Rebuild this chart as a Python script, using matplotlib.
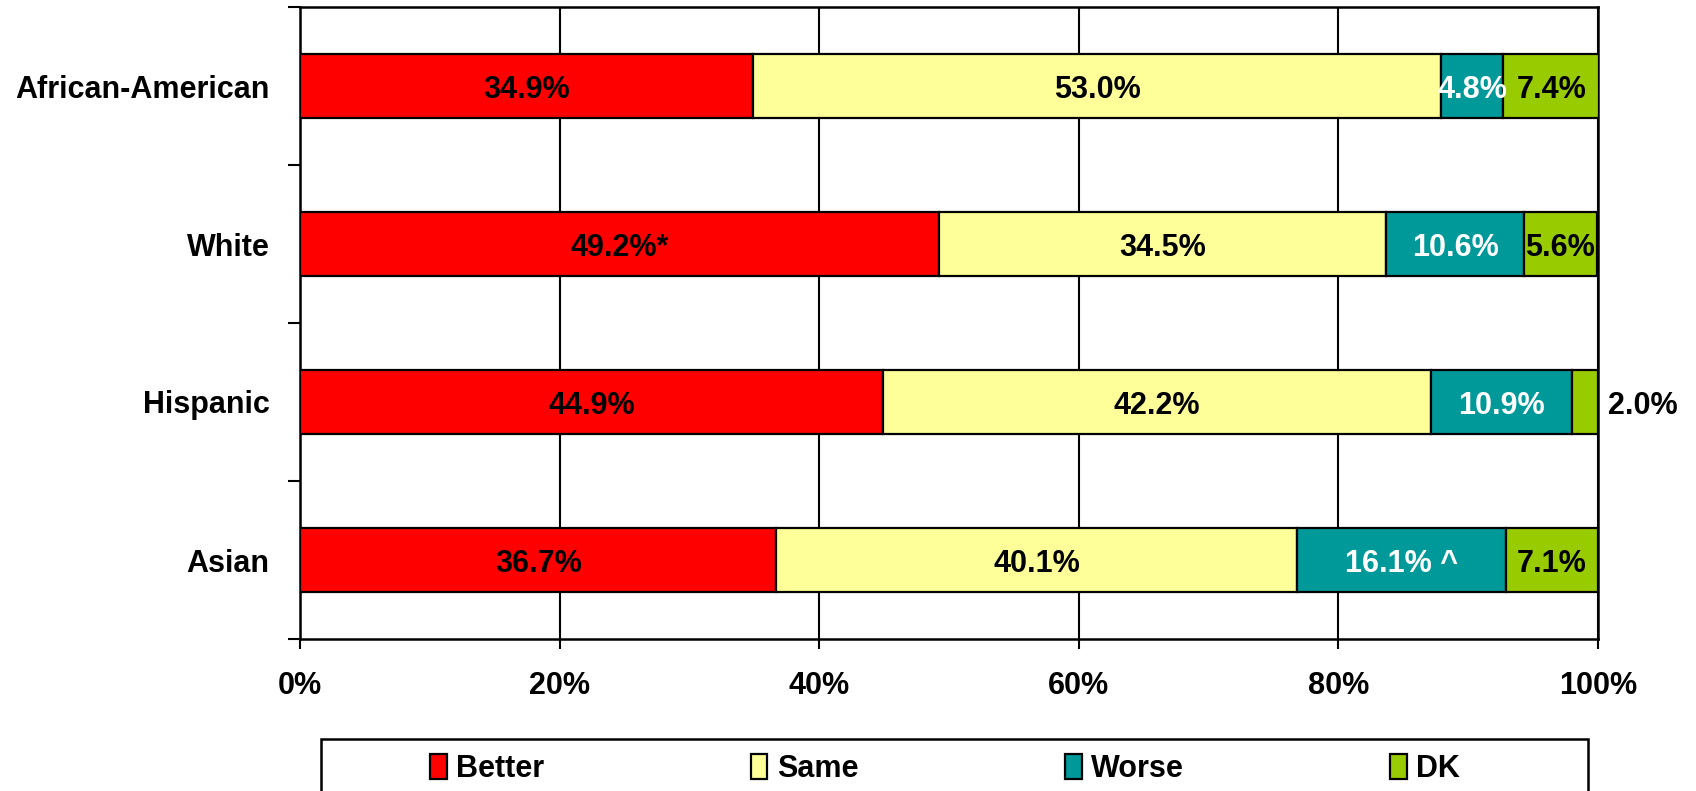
import numpy as np
import matplotlib
matplotlib.use('Agg')
import matplotlib.pyplot as plt
from matplotlib.patches import Rectangle

plt.rcParams['font.family'] = ['Liberation Sans', 'DejaVu Sans']
plt.rcParams['font.weight'] = 'bold'

groups = ['African-American', 'White', 'Hispanic', 'Asian']
series = ['Better', 'Same', 'Worse', 'DK']
better = [34.9, 49.2, 44.9, 36.7]
same = [53.0, 34.5, 42.2, 40.1]
worse = [4.8, 10.6, 10.9, 16.1]
dk = [7.4, 5.6, 2.0, 7.1]
# marks added after some labels in the source
notes = {('White', 'Better'): '*', ('Asian', 'Worse'): ' ^'}

colors = ['#FF0000', '#FFFF99', '#009999', '#99CC00']
txt_cols = ['black', 'black', 'white', 'black']
FS = 22

fig = plt.figure(figsize=(16.96, 7.91), dpi=100)
ax = fig.add_axes([300 / 1696, 1 - 639 / 791, 1298 / 1696, 632 / 791])

y = np.arange(len(groups))
left = np.zeros(len(groups))
handles = []
for vals, name, col, tc in zip([better, same, worse, dk], series, colors, txt_cols):
    vals = np.array(vals)
    h = ax.barh(y, vals, left=left, height=0.4, color=col, edgecolor='black',
                lw=1.6, label=name, zorder=3)
    handles.append(h)
    for i, v in enumerate(vals):
        s = f'{v:.1f}%' + notes.get((groups[i], name), '')
        if v < 3:
            ax.annotate(s, (left[i] + v, y[i]), xytext=(7, 0),
                        textcoords='offset points', ha='left',
                        va='center_baseline', fontsize=FS, fontweight='bold',
                        color='black', annotation_clip=False, zorder=5)
        else:
            ax.text(left[i] + v / 2, y[i], s, ha='center', va='center_baseline',
                    fontsize=FS, fontweight='bold', color=tc, zorder=5)
    left += vals

ax.set_xlim(0, 100)
ax.set_ylim(len(groups) - 0.5, -0.5)
ax.set_xticks(np.arange(0, 101, 20))
ax.set_xticklabels([f'{t}%' for t in range(0, 101, 20)], fontsize=FS,
                   fontweight='bold')
ax.set_yticks(y)
ax.set_yticklabels(groups, fontsize=FS, fontweight='bold')
ax.set_yticks(np.arange(-0.5, len(groups), 1.0), minor=True)
ax.tick_params(axis='y', which='major', length=0, pad=22)
ax.tick_params(axis='y', which='minor', length=9, width=1.5, direction='out')
ax.tick_params(axis='x', length=7, width=1.5, direction='out', pad=16)
ax.xaxis.grid(True, color='black', lw=1.5, zorder=1)
ax.set_axisbelow(True)
for sp in ax.spines.values():
    sp.set_linewidth(1.8)
    sp.set_color('black')

# legend frame, cut off at the bottom edge like the source
fig.patches.append(Rectangle((321 / 1696, -0.05), 1267 / 1696, 1 - 739 / 791 + 0.05,
                             transform=fig.transFigure, fill=False,
                             edgecolor='black', lw=1.8))
fig.legend(handles, series, loc='center', mode='expand', ncol=4, frameon=False,
           bbox_to_anchor=(430 / 1696, 1 - 792 / 791, 1030 / 1696, 46 / 791),
           prop={'weight': 'bold', 'size': FS},
           handlelength=0.55, handleheight=0.85, handletextpad=0.3,
           borderpad=0, borderaxespad=0)

fig.savefig('out.png', dpi=100)
